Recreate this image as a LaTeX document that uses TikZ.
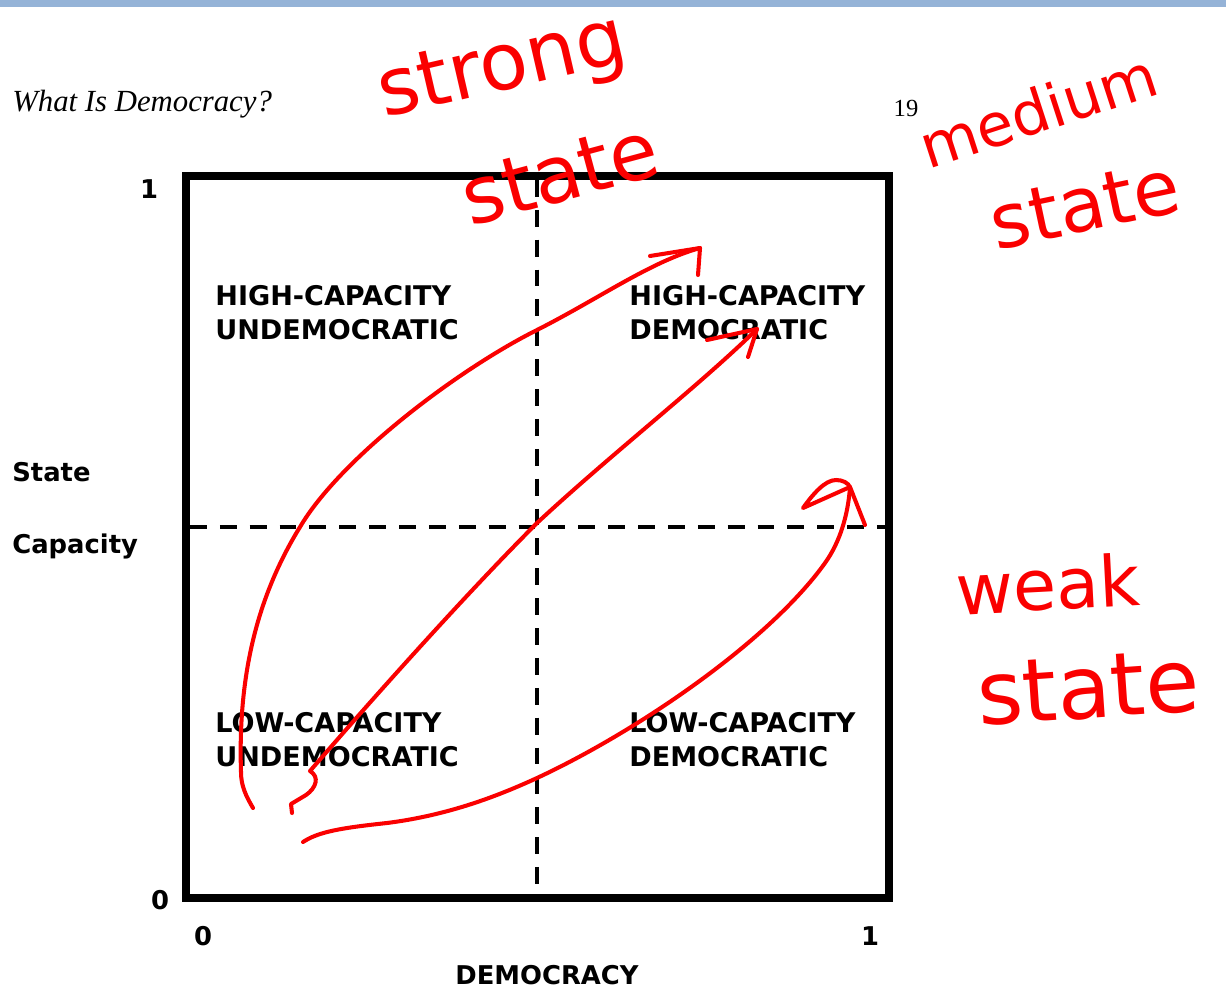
\documentclass[tikz,border=0pt]{standalone}
\usepackage{fontspec}
\setmainfont{DejaVu Sans}
\newfontfamily\titlefont{Liberation Serif}
\newfontfamily\handfont{DejaVu Sans}
\definecolor{barblue}{RGB}{149,179,215}
\definecolor{penred}{RGB}{250,0,0}
\tikzset{
  frame/.style={line width=4.8pt},
  divider/.style={line width=2.5pt, dash pattern=on 9.6pt off 7.4pt},
  quad/.style={anchor=base west, inner sep=0pt, font=\bfseries\fontsize{15.4}{19.8}\selectfont},
  axislabel/.style={inner sep=0pt, font=\bfseries\fontsize{14.7}{17}\selectfont},
  pen/.style={draw=penred, line width=2.3pt, line cap=round, line join=round},
  hand/.style={text=penred, inner sep=0pt}
}
\begin{document}
\begin{tikzpicture}[x=0.02cm, y=-0.02cm]
\useasboundingbox (0,0) rectangle (1226,990);
\fill[white] (0,0) rectangle (1226,990);
\fill[barblue] (0,0) rectangle (1226,7);

% header
\node[anchor=base west, inner sep=0pt, font=\titlefont\itshape\fontsize{17.5}{20}\selectfont] (title) at (12,112) {What Is Democracy?};
\node[anchor=base, inner sep=0pt, font=\titlefont\fontsize{14}{16}\selectfont] (page) at (906,116) {19};

% frame and dividers
\draw[frame] (186,176) rectangle (889,898);
\draw[divider] (537,180) -- (537,894);
\draw[divider] (190,527) -- (885,527);

% quadrant labels
\node[quad] (hu) at (215,305) {\begin{tabular}[t]{@{}l@{}}HIGH-CAPACITY\\UNDEMOCRATIC\end{tabular}};
\node[quad] (hd) at (629,305) {\begin{tabular}[t]{@{}l@{}}HIGH-CAPACITY\\DEMOCRATIC\end{tabular}};
\node[quad] (lu) at (215,732) {\begin{tabular}[t]{@{}l@{}}LOW-CAPACITY\\UNDEMOCRATIC\end{tabular}};
\node[quad] (ld) at (629,732) {\begin{tabular}[t]{@{}l@{}}LOW-CAPACITY\\DEMOCRATIC\end{tabular}};

% axes labels
\node[axislabel, anchor=base] (yone) at (149,198) {1};
\node[axislabel, anchor=base] (yzero) at (160,909) {0};
\node[axislabel, anchor=base] (xzero) at (203,945) {0};
\node[axislabel, anchor=base] (xone) at (870,945) {1};
\node[axislabel, anchor=base] (xlabel) at (547,984) {DEMOCRACY};
\node[axislabel, anchor=base west] (ylabA) at (12,481) {State};
\node[axislabel, anchor=base west] (ylabB) at (12,553) {Capacity};

% red hand-drawn arrows
\coordinate (s1) at (253,808);
\coordinate (t1) at (700,248);
\draw[pen] (s1) .. controls (246,796) and (241,786) .. (241,772)
  .. controls (238,680) and (255,600) .. (300,527)
  .. controls (340,459) and (457,370) .. (537,330)
  .. controls (600,298) and (650,262) .. (t1);
\draw[pen] (650,256) -- (t1) -- (698,275);

\coordinate (s2) at (292,813);
\coordinate (t2) at (757,329);
\draw[pen] (s2) -- (291,804) -- (306,795) .. controls (316,788) and (320,777) .. (310,771)
  .. controls (380,690) and (470,590) .. (537,523)
  .. controls (610,455) and (700,385) .. (t2);
\draw[pen] (707,340) -- (t2) -- (748,357);

\coordinate (s3) at (303,842);
\coordinate (t3) at (850,487);
\draw[pen] (s3) .. controls (318,832) and (340,828) .. (387,823)
  .. controls (450,815) and (500,795) .. (537,778)
  .. controls (640,730) and (770,640) .. (825,563)
  .. controls (840,542) and (848,515) .. (t3);
\draw[pen] (t3) -- (803,508) .. controls (813,494) and (825,480) .. (836,480) .. controls (843,480) and (848,483) .. (t3) -- (865,525);

% handwritten notes
\node[hand, rotate=13, font=\handfont\fontsize{45}{50}\selectfont] (strong) at (503,70) {strong};
\node[hand, rotate=15, font=\handfont\fontsize{45}{50}\selectfont] (stateA) at (560,174) {state};
\node[hand, rotate=18, font=\handfont\fontsize{34}{40}\selectfont] (medium) at (1038,110) {medium};
\node[hand, rotate=12, font=\handfont\fontsize{43}{48}\selectfont] (stateB) at (1085,205) {state};
\node[hand, rotate=3, font=\handfont\fontsize{40}{42}\selectfont] (weak) at (1048,584) {weak};
\node[hand, rotate=4, font=\handfont\fontsize{50}{54}\selectfont] (stateC) at (1088,688) {state};
\end{tikzpicture}
\end{document}
